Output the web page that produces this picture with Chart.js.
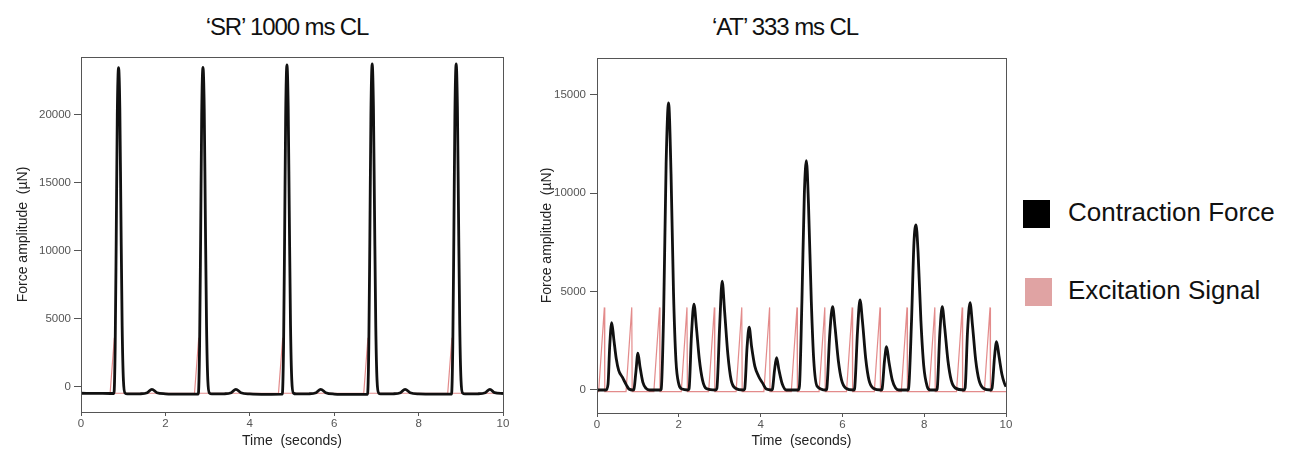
<!DOCTYPE html>
<html lang="en">
<head>
    <meta charset="UTF-8">
    <title>SR vs AT force traces</title>
    <script src="https://cdn.jsdelivr.net/npm/chart.js"></script>
    <style>
        body { margin: 0; background: #fff; width: 1291px; height: 450px; position: relative; overflow: hidden; font-family: Arial, "Liberation Sans", sans-serif; }
        .judul { position: absolute; top: 13px; font-size: 24px; letter-spacing: -1.1px; color: #111; text-align: center; width: 300px; }
        canvas { position: absolute; }
        .leg-box { position: absolute; width: 27px; height: 28px; }
        .leg-text { position: absolute; font-size: 26px; color: #111; }
    </style>
</head>
<body>

    <div class="judul" style="left:137px;">‘SR’ 1000 ms CL</div>
    <div class="judul" style="left:635px;">‘AT’ 333 ms CL</div>

    <canvas id="chartSR" width="520" height="410" style="left:0;top:40px;"></canvas>
    <canvas id="chartAT" width="490" height="410" style="left:530px;top:40px;"></canvas>

    <!-- legenda -->
    <div class="leg-box" style="left:1023px;top:200px;background:#000;"></div>
    <div class="leg-text" style="left:1068px;top:197px;">Contraction Force</div>
    <div class="leg-box" style="left:1025px;top:278px;background:#e0a3a3;"></div>
    <div class="leg-text" style="left:1068px;top:275px;">Excitation Signal</div>

    <script>
        // ---- data: 'SR' 1000 ms CL ----
        let srTime = [0, 0.4, 0.7, 0.78, 0.81, 0.835, 0.86, 0.89, 0.92, 0.945, 0.975, 1.005, 1.045, 1.1, 1.4, 1.57, 1.68, 1.8, 2.0, 2.4, 2.78,
            2.81, 2.835, 2.86, 2.89, 2.92, 2.945, 2.975, 3.005, 3.045, 3.1, 3.4, 3.56, 3.67, 3.79, 4.0, 4.4, 4.77,
            4.80, 4.825, 4.85, 4.88, 4.91, 4.935, 4.965, 4.995, 5.035, 5.1, 5.4, 5.57, 5.68, 5.8, 6.0, 6.4, 6.79,
            6.82, 6.845, 6.87, 6.9, 6.93, 6.955, 6.985, 7.015, 7.055, 7.1, 7.4, 7.57, 7.68, 7.8, 8.0, 8.4, 8.78,
            8.81, 8.835, 8.86, 8.89, 8.92, 8.945, 8.975, 9.005, 9.045, 9.1, 9.4, 9.58, 9.69, 9.8, 10.0];
        let srForce = [-460, -470, -480, -480, 3000, 11000, 20000, 23480, 20500, 13000, 4500, 500, -450, -510, -500, -420, -170, -420, -500, -530, -520,
            3000, 11000, 20000, 23500, 20500, 13000, 4500, 500, -450, -510, -500, -420, -170, -420, -510, -540, -530,
            3000, 11000, 20000, 23680, 20500, 13000, 4500, 500, -450, -510, -500, -420, -170, -420, -520, -550, -540,
            3000, 11000, 20000, 23750, 20500, 13000, 4500, 500, -450, -510, -500, -420, -170, -420, -510, -530, -530,
            3000, 11000, 20000, 23750, 20500, 13000, 4500, 500, -450, -510, -500, -420, -170, -420, -480];
        let srSigTime = [0, 0.69, 0.79, 0.795, 2.69, 2.79, 2.795, 4.68, 4.78, 4.785, 6.70, 6.80, 6.805, 8.69, 8.79, 8.795, 10];
        let srSig = [-460, -460, 3620, -460, -460, 3620, -460, -460, 3620, -460, -460, 3620, -460, -460, 3620, -460, -460];
        let srYTicks = [0, 5000, 10000, 15000, 20000];

        // ---- data: 'AT' 333 ms CL ----
        let atTime = [0, 0.22, 0.27, 0.31, 0.36, 0.41, 0.47, 0.53, 0.62, 0.72, 0.78, 0.88,
            0.9, 0.95, 1.0, 1.05, 1.12, 1.2, 1.28, 1.55,
            1.57, 1.63, 1.69, 1.75, 1.81, 1.87, 1.93, 2.0, 2.08, 2.22,
            2.25, 2.31, 2.37, 2.43, 2.5, 2.58, 2.67, 2.9,
            2.93, 3.0, 3.06, 3.12, 3.2, 3.28, 3.38, 3.58,
            3.61, 3.67, 3.72, 3.78, 3.86, 3.95, 4.05, 4.14, 4.27,
            4.29, 4.34, 4.39, 4.45, 4.53, 4.63, 4.92,
            4.95, 5.01, 5.07, 5.12, 5.17, 5.24, 5.3, 5.38, 5.6,
            5.62, 5.69, 5.76, 5.82, 5.9, 5.98, 6.08, 6.28,
            6.3, 6.37, 6.43, 6.49, 6.57, 6.65, 6.75, 6.95,
            6.97, 7.03, 7.08, 7.14, 7.22, 7.3, 7.38, 7.6,
            7.62, 7.69, 7.75, 7.8, 7.85, 7.92, 7.99, 8.07, 8.15, 8.3,
            8.32, 8.38, 8.44, 8.5, 8.58, 8.66, 8.76, 8.97,
            9.0, 9.06, 9.12, 9.18, 9.26, 9.34, 9.44, 9.63,
            9.66, 9.72, 9.77, 9.83, 9.9, 9.96, 10.0];
        let atForce = [0, 0, 300, 2200, 3430, 2600, 1600, 1000, 650, 250, 50, 0,
            20, 900, 1870, 1200, 400, 80, 0, 0,
            50, 4000, 11500, 14600, 11000, 5000, 1500, 300, 50, 0,
            50, 2800, 4370, 3200, 1600, 500, 80, 0,
            80, 3300, 5540, 4000, 1800, 500, 100, 0,
            50, 2200, 3190, 2200, 1200, 700, 350, 50, 0,
            50, 1000, 1640, 1000, 300, 0, 0,
            200, 4500, 10000, 11660, 9500, 4500, 1500, 200, 0,
            100, 2800, 4240, 3200, 1500, 500, 100, 0,
            100, 3000, 4580, 3500, 1600, 500, 100, 0,
            50, 1500, 2200, 1400, 500, 100, 0, 0,
            100, 3500, 7500, 8390, 7000, 3500, 1200, 200, 0, 0,
            100, 2800, 4240, 3200, 1500, 500, 100, 0,
            100, 3000, 4440, 3300, 1500, 500, 100, 0,
            100, 1700, 2460, 1700, 800, 350, 170];
        let atSigTime = [0, 0.04, 0.18, 0.19, 0.71, 0.85, 0.86, 1.39, 1.53, 1.54, 2.06, 2.2, 2.21, 2.73, 2.87, 2.88,
            3.4, 3.54, 3.55, 4.08, 4.22, 4.23, 4.75, 4.89, 4.9, 5.43, 5.57, 5.58, 6.1, 6.24, 6.25,
            6.78, 6.92, 6.93, 7.44, 7.58, 7.59, 8.12, 8.26, 8.27, 8.79, 8.93, 8.94, 9.47, 9.61, 9.62, 10];
        let atSig = [-80, -80, 4200, -80, -80, 4200, -80, -80, 4200, -80, -80, 4200, -80, -80, 4200, -80,
            -80, 4200, -80, -80, 4200, -80, -80, 4200, -80, -80, 4200, -80, -80, 4200, -80,
            -80, 4200, -80, -80, 4200, -80, -80, 4200, -80, -80, 4200, -80, -80, 4200, -80, -80];
        let atYTicks = [0, 5000, 10000, 15000];

        let xTicks = [0, 2, 4, 6, 8, 10];

        function gabung(xs, ys) {
            return xs.map((t, i) => ({ x: t, y: ys[i] }));
        }

        // kotak di sekeliling area plot
        let kotakPlugin = {
            id: "kotak",
            afterDraw(chart) {
                let a = chart.chartArea;
                let ctx = chart.ctx;
                ctx.save();
                ctx.strokeStyle = "#555";
                ctx.lineWidth = 1;
                ctx.strokeRect(Math.round(a.left) + 0.5, Math.round(a.top) + 0.5, Math.round(a.right - a.left), Math.round(a.bottom - a.top));
                ctx.restore();
            }
        };

        function buatChart(id, force, signal, yMin, yMax, yTicks, pad, yWidth, xHeight, titlePad, yTickPad) {
            let ctx = document.getElementById(id).getContext("2d");
            return new Chart(ctx, {
                type: "line",
                data: {
                    datasets: [{
                        label: "Contraction Force",
                        data: force,
                        borderColor: "#111",
                        borderWidth: 2.8,
                        pointRadius: 0,
                        cubicInterpolationMode: "monotone"
                    }, {
                        label: "Excitation Signal",
                        data: signal,
                        borderColor: "rgba(220, 110, 110, 0.8)",
                        borderWidth: 1.2,
                        pointRadius: 0,
                        tension: 0
                    }]
                },
                options: {
                    responsive: false,
                    animation: false,
                    layout: { padding: pad },
                    plugins: { legend: { display: false }, tooltip: { enabled: false } },
                    scales: {
                        x: {
                            type: "linear",
                            min: 0, max: 10,
                            afterBuildTicks: s => { s.ticks = xTicks.map(v => ({ value: v })); },
                            afterFit: s => { s.height = xHeight; },
                            border: { display: false },
                            grid: { drawOnChartArea: false, drawTicks: true, tickLength: 4, color: "#555" },
                            ticks: { color: "#555", font: { size: 11.5, family: "Arial" }, padding: 1, maxRotation: 0 },
                            title: { display: true, text: "Time  (seconds)", color: "#222", font: { size: 14, family: "Arial" }, padding: { top: 0, bottom: 0 } }
                        },
                        y: {
                            type: "linear",
                            min: yMin, max: yMax,
                            afterBuildTicks: s => { s.ticks = yTicks.map(v => ({ value: v })); },
                            afterFit: s => { s.width = yWidth; },
                            border: { display: false },
                            grid: { drawOnChartArea: false, drawTicks: true, tickLength: 7, color: "#555" },
                            ticks: { color: "#555", font: { size: 11.5, family: "Arial" }, padding: yTickPad, callback: v => String(v) },
                            title: { display: true, text: "Force amplitude  (µN)", color: "#222", font: { size: 14, family: "Arial" }, padding: { top: titlePad, bottom: 0 } }
                        }
                    }
                },
                plugins: [kotakPlugin]
            });
        }

        buatChart("chartSR", gabung(srTime, srForce), gabung(srSigTime, srSig), -1840, 24265, srYTicks,
            { top: 17, right: 17, left: 0, bottom: 0 }, 81, 38, 15, 3);
        buatChart("chartAT", gabung(atTime, atForce), gabung(atSigTime, atSig), -1170, 16880, atYTicks,
            { top: 18, right: 14, left: 0, bottom: 0 }, 67, 37, 9, 4);
    </script>

</body>
</html>
